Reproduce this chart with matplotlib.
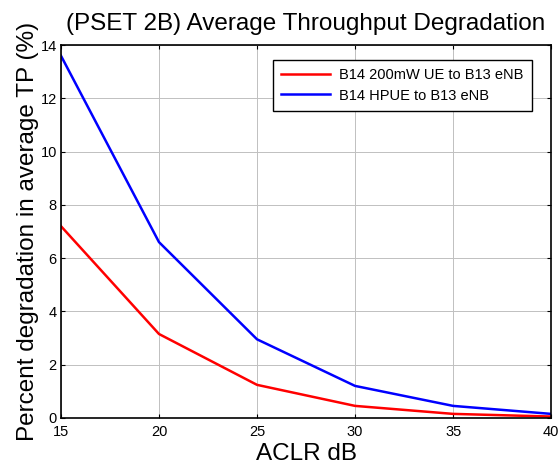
import matplotlib
matplotlib.use('Agg')
import matplotlib.pyplot as plt

plt.rcParams['font.family'] = ['Liberation Sans', 'DejaVu Sans']

aclr_db = [15, 20, 25, 30, 35, 40]
tp_200mw = [7.2, 3.15, 1.24, 0.45, 0.15, 0.05]
tp_hpue = [13.6, 6.6, 2.95, 1.2, 0.45, 0.15]
labels = ['B14 200mW UE to B13 eNB', 'B14 HPUE to B13 eNB']


def main():
    fig = plt.figure(figsize=(5.59, 4.69), dpi=100)
    ax = fig.add_axes([0.109, 0.109, 0.877, 0.795])
    ax.plot(aclr_db, tp_200mw, color='red', lw=1.8, label=labels[0])
    ax.plot(aclr_db, tp_hpue, color='blue', lw=1.8, label=labels[1])
    ax.set_xlim(15, 40)
    ax.set_ylim(0, 14)
    ax.set_xticks(range(15, 41, 5))
    ax.set_yticks(range(0, 15, 2))
    ax.grid(True, color='#c0c0c0', lw=0.7)
    ax.tick_params(direction='in', labelsize=10.5, length=3, top=True, right=True)
    ax.tick_params(axis='x', pad=5)
    ax.tick_params(axis='y', pad=3)
    for s in ax.spines.values():
        s.set_linewidth(1.2)
    ax.set_xlabel('ACLR dB', fontsize=17.5, labelpad=3)
    ax.set_ylabel('Percent degradation in average TP (%)', fontsize=17.5, labelpad=1)
    ax.set_title('(PSET 2B) Average Throughput Degradation', fontsize=17.5, pad=11)
    leg = ax.legend(loc='upper right', bbox_to_anchor=(0.96, 0.96), fontsize=10.5,
                    fancybox=False, edgecolor='black', framealpha=1, handlelength=3.4,
                    handletextpad=0.6, borderpad=0.55, labelspacing=0.45,
                    borderaxespad=0)
    leg.get_frame().set_linewidth(1.0)
    fig.savefig('out.png', dpi=100)


if __name__ == '__main__':
    main()
